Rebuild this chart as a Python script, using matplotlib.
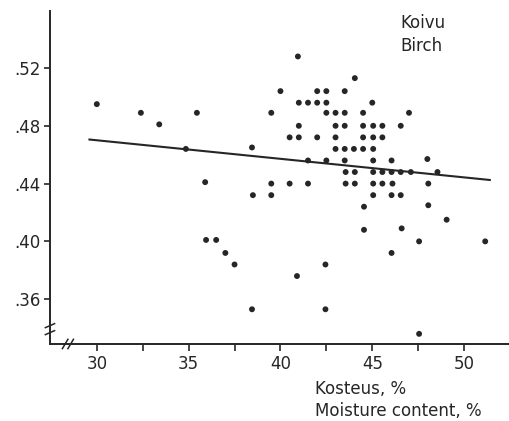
import matplotlib
matplotlib.use("Agg")
import matplotlib.pyplot as plt

# moisture content (%) and density of the birch samples
moisture = [
    30.0, 32.4, 33.4, 35.45, 34.85, 38.45, 35.9, 38.5,
    35.95, 36.5, 37.0, 37.5, 38.45, 40.9, 42.45, 42.45, 47.55,
    44.55, 44.55, 48.05, 49.05, 46.6, 47.55, 51.15, 46.05,
    40.95, 44.05,
    40.0, 42.0, 42.5, 43.5,
    41.0, 41.5, 42.0, 42.5, 45.0,
    39.5, 42.5, 43.0, 43.5, 44.5, 47.0,
    41.0, 43.0, 43.5, 44.5, 45.05, 45.55, 46.55,
    40.5, 41.0, 42.0, 43.0, 44.5, 45.05, 45.55,
    43.0, 43.5, 44.0, 44.5, 45.05,
    41.5, 42.5, 43.5, 45.05, 46.05, 48.0,
    43.55, 44.05, 45.05, 45.55, 46.05, 46.55, 47.1, 48.55,
    39.5, 40.5, 41.5, 43.55, 44.05, 45.05, 45.55, 46.1, 48.05,
    39.5, 45.05, 46.05, 46.55,
]
density = [
    0.495, 0.489, 0.481, 0.489, 0.464, 0.465, 0.441, 0.432,
    0.401, 0.401, 0.392, 0.384, 0.353, 0.376, 0.384, 0.353, 0.336,
    0.424, 0.408, 0.425, 0.415, 0.409, 0.400, 0.400, 0.392,
    0.528, 0.513,
    0.504, 0.504, 0.504, 0.504,
    0.496, 0.496, 0.496, 0.496, 0.496,
    0.489, 0.489, 0.489, 0.489, 0.489, 0.489,
    0.480, 0.480, 0.480, 0.480, 0.480, 0.480, 0.480,
    0.472, 0.472, 0.472, 0.472, 0.472, 0.472, 0.472,
    0.464, 0.464, 0.464, 0.464, 0.464,
    0.456, 0.456, 0.456, 0.456, 0.456, 0.457,
    0.448, 0.448, 0.448, 0.448, 0.448, 0.448, 0.448, 0.448,
    0.440, 0.440, 0.440, 0.440, 0.440, 0.440, 0.440, 0.440, 0.440,
    0.432, 0.432, 0.432, 0.432,
]

# fitted regression line (end points)
fit_x = [29.6, 51.4]
fit_y = [0.4705, 0.4425]

yticks = [0.36, 0.40, 0.44, 0.48, 0.52]
ytick_labels = [".36", ".40", ".44", ".48", ".52"]
xticks = [30, 35, 40, 45, 50]
xminor = [32.5, 37.5, 42.5, 47.5]

ink = "#262626"

fig = plt.figure(figsize=(5.10, 4.21), dpi=100)
ax = fig.add_axes([0.098, 0.183, 0.902, 0.791])

ax.scatter(moisture, density, s=18, color=ink, edgecolors="none", zorder=3)
ax.plot(fit_x, fit_y, color=ink, lw=1.5, zorder=2)

ax.set_xlim(27.45, 52.5)
ax.set_ylim(0.329, 0.5595)

for side in ["top", "right"]:
    ax.spines[side].set_visible(False)
for side in ["left", "bottom"]:
    ax.spines[side].set_linewidth(1.4)
    ax.spines[side].set_color(ink)

ax.set_yticks(yticks)
ax.set_yticklabels(ytick_labels)
ax.set_xticks(xticks)
ax.set_xticks(xminor, minor=True)
ax.tick_params(axis="y", direction="out", length=4, width=1.2, color=ink,
               labelsize=12, labelcolor=ink, pad=3)
ax.tick_params(axis="x", which="both", direction="out", length=5, width=1.2,
               color=ink, labelsize=12, labelcolor=ink, pad=3)

# axis break marks
kw = dict(transform=ax.transAxes, color=ink, lw=1.1, clip_on=False)
for yb in (0.036, 0.057):
    ax.plot([-0.010, 0.010], [yb - 0.008, yb + 0.004], **kw)
for xb in (0.033, 0.045):
    ax.plot([xb - 0.006, xb + 0.006], [-0.014, 0.014], **kw)

ax.text(0.762, 0.992, "Koivu\nBirch", transform=ax.transAxes, ha="left",
        va="top", fontsize=12, color=ink, linespacing=1.4)

fig.text(0.617, 0.050, "Kosteus, %\nMoisture content, %", ha="left",
         va="center", fontsize=12, color=ink, linespacing=1.3)

fig.savefig("out.png", dpi=100, facecolor="white")
